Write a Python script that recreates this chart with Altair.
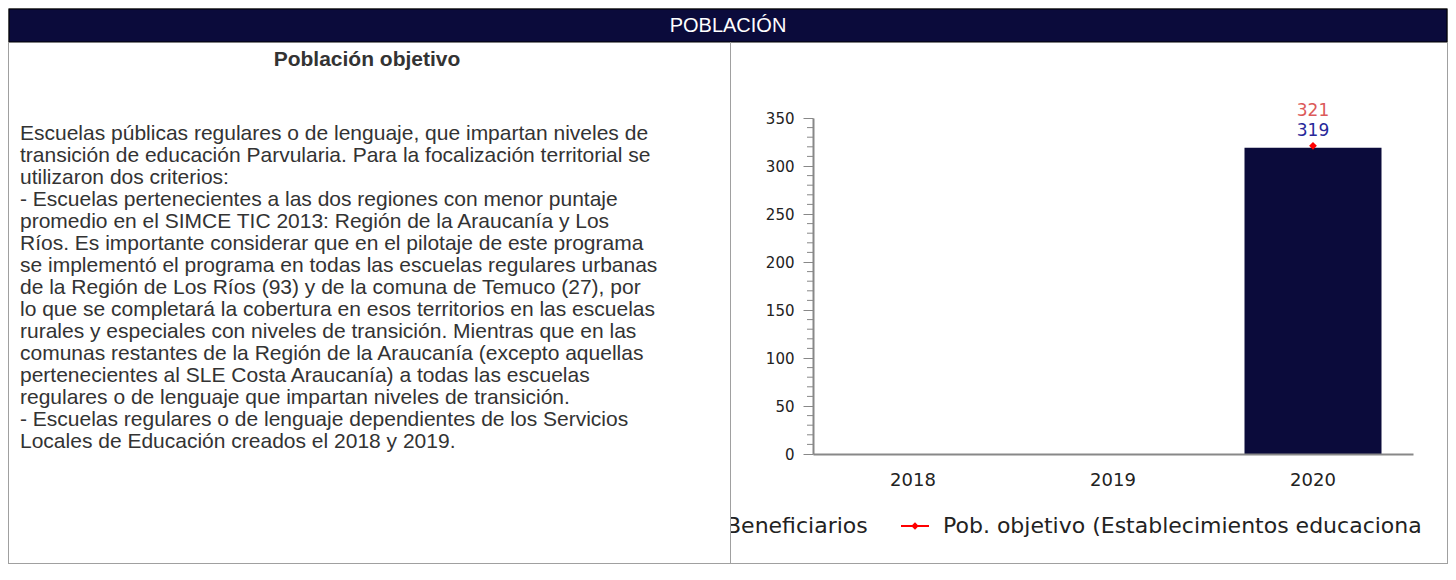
import altair as alt
import pandas as pd

# ---------------- data ----------------
years = ["2018", "2019", "2020"]
beneficiarios = [None, None, 319]
pob_objetivo = [None, None, 321]

y_ticks = [0, 50, 100, 150, 200, 250, 300, 350]
y_minor = [10, 20, 30, 40, 60, 70, 80, 90, 110, 120, 130, 140, 160, 170, 180, 190,
           210, 220, 230, 240, 260, 270, 280, 290, 310, 320, 330, 340]

header_title = "POBLACIÓN"
panel_title = "Población objetivo"
body_lines = [
    "Escuelas públicas regulares o de lenguaje, que impartan niveles de",
    "transición de educación Parvularia. Para la focalización territorial se",
    "utilizaron dos criterios:",
    "- Escuelas pertenecientes a las dos regiones con menor puntaje",
    "promedio en el SIMCE TIC 2013: Región de la Araucanía y Los",
    "Ríos. Es importante considerar que en el pilotaje de este programa",
    "se implementó el programa en todas las escuelas regulares urbanas",
    "de la Región de Los Ríos (93) y de la comuna de Temuco (27), por",
    "lo que se completará la cobertura en esos territorios en las escuelas",
    "rurales y especiales con niveles de transición. Mientras que en las",
    "comunas restantes de la Región de la Araucanía (excepto aquellas",
    "pertenecientes al SLE Costa Araucanía) a todas las escuelas",
    "regulares o de lenguaje que impartan niveles de transición.",
    "- Escuelas regulares o de lenguaje dependientes de los Servicios",
    "Locales de Educación creados el 2018 y 2019.",
]
legend_bar = "Beneficiarios"
legend_line = "Pob. objetivo (Establecimientos educacionales)"

# ---------------- styles / layout ----------------
NAVY = "#0b0b3b"
BORDER = "#a0a0a0"
AXIS = "#888888"
TEXT = "#333333"

OX, OY = 813, 118          # plot-area origin in page-image coordinates


def px(x):
    return x - OX


def py(y):
    return y - OY


one = pd.DataFrame({"k": [0]})
df = pd.DataFrame({"year": years, "beneficiarios": beneficiarios, "pob": pob_objetivo})
minor_df = pd.DataFrame({"v": y_minor})

xscale = alt.Scale(domain=years, paddingInner=0.315, paddingOuter=0.1575)
yscale = alt.Scale(domain=[0, 350], nice=False)
xaxis = alt.Axis(title=None, ticks=False, tickSize=0, domainColor=AXIS, domainWidth=2,
                 labelFont="DejaVu Sans", labelFontSize=18, labelColor="#222222",
                 labelPadding=17, labelAngle=0, grid=False, zindex=1)
yaxis = alt.Axis(title=None, values=y_ticks, tickSize=10, tickColor=AXIS, tickWidth=1,
                 domainColor=AXIS, domainWidth=2, labelFont="DejaVu Sans",
                 labelFontSize=15, labelColor="#222222", labelPadding=9, grid=False,
                 zindex=1)


def box(x1, y1, x2, y2, color, **kw):
    return alt.Chart(one).mark_rect(color=color, **kw).encode(
        x=alt.value(px(x1)), x2=alt.value(px(x2)),
        y=alt.value(py(y1)), y2=alt.value(py(y2)))


bg_border = box(8, 8, 1448, 564, BORDER)
bg_white = box(9, 9, 1447, 563, "white")
header = box(9, 9, 1447, 42, NAVY, stroke="#000000", strokeWidth=1)
header_text = alt.Chart(one).mark_text(
    text=header_title, font="Liberation Sans", fontSize=20, color="white",
    align="center", baseline="middle").encode(x=alt.value(px(728)), y=alt.value(py(26)))
title = alt.Chart(one).mark_text(
    text=panel_title, font="Liberation Sans", fontSize=21, fontWeight="bold", color=TEXT,
    align="center", baseline="middle").encode(x=alt.value(px(367)), y=alt.value(py(60)))
body = alt.Chart(one).mark_text(
    text=body_lines, font="Liberation Sans", fontSize=21, color=TEXT, lineHeight=22,
    align="left", baseline="alphabetic").encode(x=alt.value(px(20)), y=alt.value(py(140)))

minor = alt.Chart(minor_df).mark_rule(color=AXIS, strokeWidth=1).encode(
    y=alt.Y("v:Q", scale=yscale, axis=yaxis), x=alt.value(-6), x2=alt.value(0))

bars = alt.Chart(df).mark_bar(color=NAVY).encode(
    x=alt.X("year:N", scale=xscale, axis=xaxis),
    y=alt.Y("beneficiarios:Q", scale=yscale, axis=yaxis))
points = alt.Chart(df).mark_point(shape="diamond", filled=True, size=60, color="#ff0000",
                                  opacity=1).encode(
    x=alt.X("year:N", scale=xscale, axis=xaxis),
    y=alt.Y("pob:Q", scale=yscale, axis=yaxis))
lab_ben = alt.Chart(df).mark_text(font="DejaVu Sans", fontSize=17, color="#28289a",
                                  baseline="middle", dy=-17).encode(
    x=alt.X("year:N", scale=xscale, axis=xaxis),
    y=alt.Y("beneficiarios:Q", scale=yscale, axis=yaxis),
    text=alt.Text("beneficiarios:Q", format="d"))
lab_pob = alt.Chart(df).mark_text(font="DejaVu Sans", fontSize=17, color="#dc5a5a",
                                  baseline="middle", dy=-35).encode(
    x=alt.X("year:N", scale=xscale, axis=xaxis),
    y=alt.Y("pob:Q", scale=yscale, axis=yaxis),
    text=alt.Text("pob:Q", format="d"))

leg_y = 526
leg_ben = alt.Chart(one).mark_text(
    text=legend_bar, font="DejaVu Sans", fontSize=22, color="#222222",
    align="left", baseline="middle").encode(x=alt.value(px(726)), y=alt.value(py(leg_y)))
leg_rule = alt.Chart(one).mark_rule(color="#ff0000", strokeWidth=2).encode(
    x=alt.value(px(901)), x2=alt.value(px(929)), y=alt.value(py(leg_y)))
leg_pt = alt.Chart(one).mark_point(shape="diamond", filled=True, size=55, color="#ff0000",
                                   opacity=1).encode(
    x=alt.value(px(915)), y=alt.value(py(leg_y)))
leg_pob = alt.Chart(one).mark_text(
    text=legend_line, font="DejaVu Sans", fontSize=22, color="#222222",
    align="left", baseline="middle", limit=488, ellipsis=" ").encode(
    x=alt.value(px(943)), y=alt.value(py(leg_y)))
mask = box(690, 505, 731, 548, "white")
divider = box(730, 42, 731, 563, BORDER)

chart = alt.layer(
    bg_border, bg_white, header, header_text, title, body,
    minor, bars, points, lab_ben, lab_pob,
    leg_ben, leg_rule, leg_pt, leg_pob, mask, divider,
).properties(
    width=600, height=336, padding=0, autosize=alt.AutoSizeParams(type="pad")
).configure_view(strokeWidth=0).configure(background="white")

chart.save("out.html", embed_options={"renderer": "svg", "actions": False})
